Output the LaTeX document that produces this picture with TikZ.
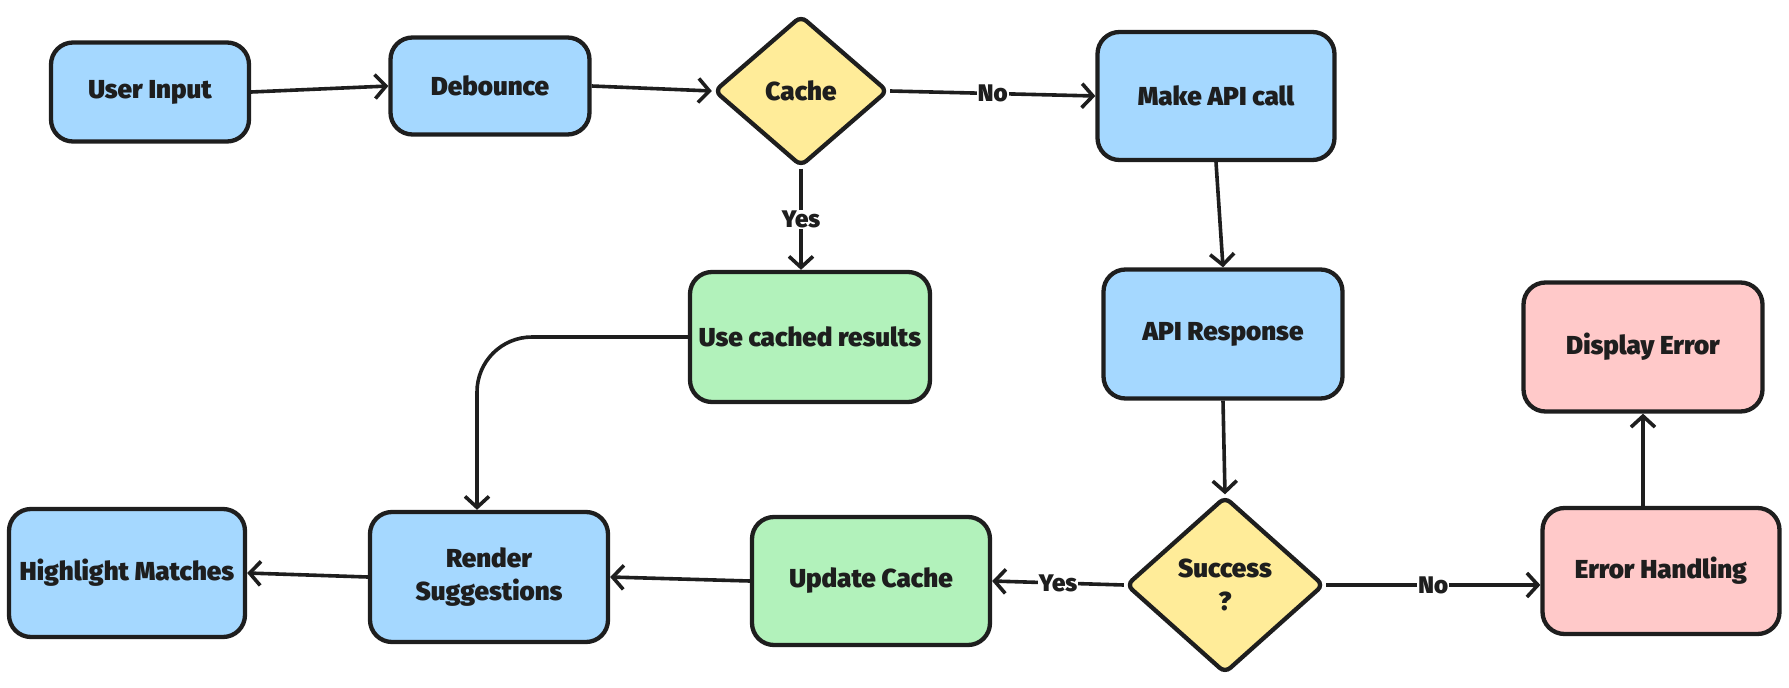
\documentclass[tikz,border=0pt]{standalone}
\usepackage{fontspec}
\setmainfont{Fira Sans}[BoldFont={Fira Sans Black}]
\usetikzlibrary{shapes.geometric,arrows.meta}
\definecolor{cblue}{HTML}{A5D8FF}
\definecolor{cgreen}{HTML}{B2F2BB}
\definecolor{cyellow}{HTML}{FFEC99}
\definecolor{cred}{HTML}{FFC9C9}
\definecolor{ink}{HTML}{1E1E1E}
\tikzset{
  base/.style={draw=ink, line width=4.3pt, font=\fontsize{26}{33}\selectfont\bfseries, text=ink, align=center},
  box/.style={base, rectangle, rounded corners=22pt, inner sep=0pt},
  dia/.style={base, diamond, rounded corners=7pt, inner sep=0pt},
  conn/.style={draw=ink, line width=3.6pt, -{Straight Barb[length=11pt,width=24pt,line width=3.6pt]}},
  lbl/.style={fill=white, inner sep=1pt, font=\fontsize{24}{28}\selectfont\bfseries, text=ink}
}
\begin{document}
\begin{tikzpicture}[x=1pt,y=-1pt]
\useasboundingbox (0,0) rectangle (1789,688);
\node[box, fill=cblue, minimum width=198pt, minimum height=99pt] (ui) at (150,92) {User Input};
\node[box, fill=cblue, minimum width=199pt, minimum height=97pt] (deb) at (490,86) {Debounce};
\node[dia, fill=cyellow, minimum width=174pt, minimum height=151pt] (cache) at (801,91) {Cache};
\node[box, fill=cblue, minimum width=237pt, minimum height=128pt] (api) at (1216,96) {Make API call};
\node[box, fill=cgreen, minimum width=240pt, minimum height=130pt] (cached) at (810,337) {Use cached results};
\node[box, fill=cblue, minimum width=239pt, minimum height=129pt] (resp) at (1223,334) {API Response};
\node[box, fill=cred, minimum width=239pt, minimum height=129pt] (disp) at (1643,347) {Display Error};
\node[box, fill=cblue, minimum width=236pt, minimum height=128pt] (hl) at (127,573) {Highlight Matches};
\node[box, fill=cblue, minimum width=238pt, minimum height=130pt] (render) at (489,577) {Render\\Suggestions};
\node[box, fill=cgreen, minimum width=238pt, minimum height=128pt] (upd) at (871,581) {Update Cache};
\node[dia, fill=cyellow, minimum width=198pt, minimum height=177pt] (succ) at (1225,585) {Success\\?};
\node[box, fill=cred, minimum width=237pt, minimum height=126pt] (err) at (1661,571) {Error Handling};

\draw[conn] (ui.east) -- (deb.west);
\draw[conn] (deb.east) -- (cache.west);
\draw[conn] (cache.east) -- node[lbl]{No} (api.west);
\draw[conn] (cache.south) -- node[lbl]{Yes} (cache.south |- cached.north);
\draw[conn] (api.south) -- (resp.north);
\draw[conn] (resp.south) -- (succ.north);
\draw[conn] (succ.west) -- node[lbl]{Yes} (upd.east);
\draw[conn] (succ.east) -- node[lbl]{No} (succ.east -| err.west);
\draw[conn] (disp.south |- err.north) -- (disp.south);
\draw[conn] (upd.west) -- (render.east);
\draw[conn] (render.west) -- (hl.east);
\coordinate (rin) at ([xshift=-12pt]render.north);
\draw[conn, rounded corners=55pt] (cached.west) -- (cached.west -| rin) -- (rin);
\end{tikzpicture}
\end{document}
